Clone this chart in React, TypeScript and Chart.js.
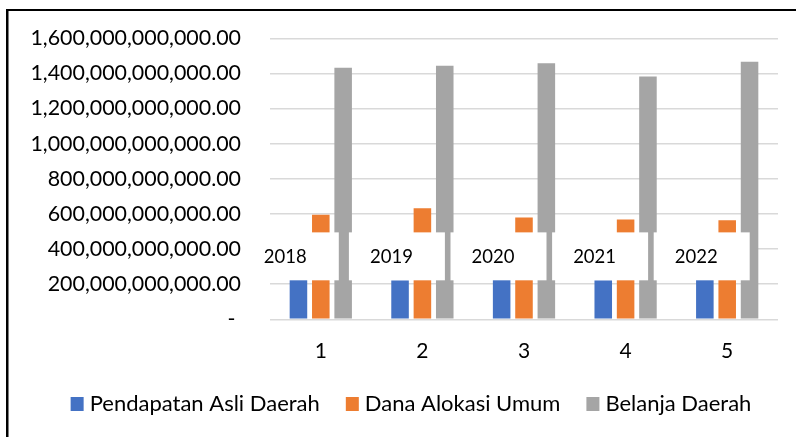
import React, { useEffect, useRef } from 'react';
import { Chart, registerables } from 'chart.js';

Chart.register(...registerables);

// ---- data ----
const categories = ['1', '2', '3', '4', '5'];
const years = ['2018', '2019', '2020', '2021', '2022'];
const pendapatanAsliDaerah = [225e9, 223e9, 228e9, 223e9, 226e9];
const danaAlokasiUmum = [596e9, 632e9, 579e9, 568e9, 564e9];
const belanjaDaerah = [1433e9, 1444e9, 1458e9, 1382e9, 1466e9];
const seriesNames = ['Pendapatan Asli Daerah', 'Dana Alokasi Umum', 'Belanja Daerah'];
// value range hidden behind the year label boxes
const yearBoxRange = [222e9, 495e9];
const yMax = 1600e9;
const yStep = 200e9;

// ---- style ----
const COLORS = ['#4472C4', '#ED7D31', '#A5A5A5'];
const FONT = 'Lato, "Open Sans", sans-serif';
const LABEL_NUDGE = [-4.5, 0, 0, 0, 0];

const frameTextPlugin = {
  id: 'frameText',
  afterDatasetsDraw(chart: any) {
    const { ctx, chartArea, scales } = chart;
    const x = scales.x;
    const y = scales.y;
    const top = y.getPixelForValue(yearBoxRange[1]);
    const bottom = y.getPixelForValue(yearBoxRange[0]);
    ctx.save();
    ctx.beginPath();
    ctx.rect(chartArea.left, 0, chartArea.right - chartArea.left, chart.height);
    ctx.clip();
    ctx.fillStyle = '#ffffff';
    years.forEach((_, i) => {
      const c = x.getPixelForValue(i) + LABEL_NUDGE[i];
      ctx.fillRect(c - 73.5, top, 96, bottom - top);
    });
    ctx.restore();
    ctx.save();
    ctx.fillStyle = '#000000';
    ctx.font = `18.5px ${FONT}`;
    ctx.textAlign = 'center';
    ctx.textBaseline = 'middle';
    years.forEach((yr, i) => {
      const c = x.getPixelForValue(i) + LABEL_NUDGE[i];
      ctx.fillText(yr, c - 31, (top + bottom) / 2 + 1);
    });
    ctx.restore();
  },
  afterDraw(chart: any) {
    const { ctx } = chart;
    ctx.save();
    // frame
    ctx.fillStyle = '#000000';
    ctx.fillRect(6, 9, chart.width - 6, 2);
    ctx.fillRect(6, 9, 2.5, chart.height - 9);
    // legend
    ctx.font = `22px ${FONT}`;
    ctx.textBaseline = 'alphabetic';
    ctx.textAlign = 'left';
    const boxW = 13;
    const boxH = 14;
    const gapBox = 6;
    const gapItem = 26;
    const widths = seriesNames.map((n) => ctx.measureText(n).width);
    const total = widths.reduce((a, w) => a + boxW + gapBox + w, 0) + gapItem * (seriesNames.length - 1);
    let cx = 411 - total / 2;
    const baseline = 411;
    seriesNames.forEach((n, i) => {
      ctx.fillStyle = COLORS[i];
      ctx.fillRect(cx, 397, boxW, boxH);
      ctx.fillStyle = '#000000';
      ctx.fillText(n, cx + boxW + gapBox, baseline);
      cx += boxW + gapBox + widths[i] + gapItem;
    });
    ctx.restore();
  },
};

export default function App() {
  const ref = useRef<HTMLCanvasElement | null>(null);
  useEffect(() => {
    document.body.style.margin = '0';
    const canvas = ref.current;
    if (!canvas) return;
    const values = [pendapatanAsliDaerah, danaAlokasiUmum, belanjaDaerah];
    const chart = new Chart(canvas, {
      type: 'bar',
      data: {
        labels: categories,
        datasets: seriesNames.map((name, i) => ({
          label: name,
          data: values[i],
          backgroundColor: COLORS[i],
          borderWidth: 0,
          categoryPercentage: 0.66,
          barPercentage: 0.785,
        })),
      },
      options: {
        animation: false,
        responsive: false,
        devicePixelRatio: 1,
        layout: { autoPadding: false, padding: { top: 38.3, right: 18, left: 0, bottom: 0 } },
        plugins: {
          legend: { display: false },
          tooltip: { enabled: false },
          title: { display: false },
        },
        scales: {
          x: {
            grid: { display: false, drawTicks: false },
            border: { display: false },
            ticks: {
              color: '#000000',
              font: { family: FONT, size: 21 },
              padding: 19,
              maxRotation: 0,
            },
            afterFit(scale: any) {
              scale.height = 117.7;
            },
          },
          y: {
            min: 0,
            max: yMax,
            grid: { color: '#d9d9d9', lineWidth: 1.5, drawTicks: false },
            border: { display: false },
            ticks: {
              stepSize: yStep,
              color: '#000000',
              font: { family: FONT, size: 21.4, lineHeight: 0.5 },
              padding: 29,
              callback: (v: any) =>
                Number(v) === 0
                  ? '- '
                  : Number(v).toLocaleString('en-US', {
                      minimumFractionDigits: 2,
                      maximumFractionDigits: 2,
                    }),
            },
            afterFit(scale: any) {
              scale.width = 270;
            },
          },
        },
      },
      plugins: [frameTextPlugin],
    });
    return () => chart.destroy();
  }, []);
  return (
    <div style={{ position: 'absolute', left: 0, top: 0, width: 796, height: 437, background: '#fff' }}>
      <canvas ref={ref} width={796} height={437} style={{ display: 'block' }} />
    </div>
  );
}
